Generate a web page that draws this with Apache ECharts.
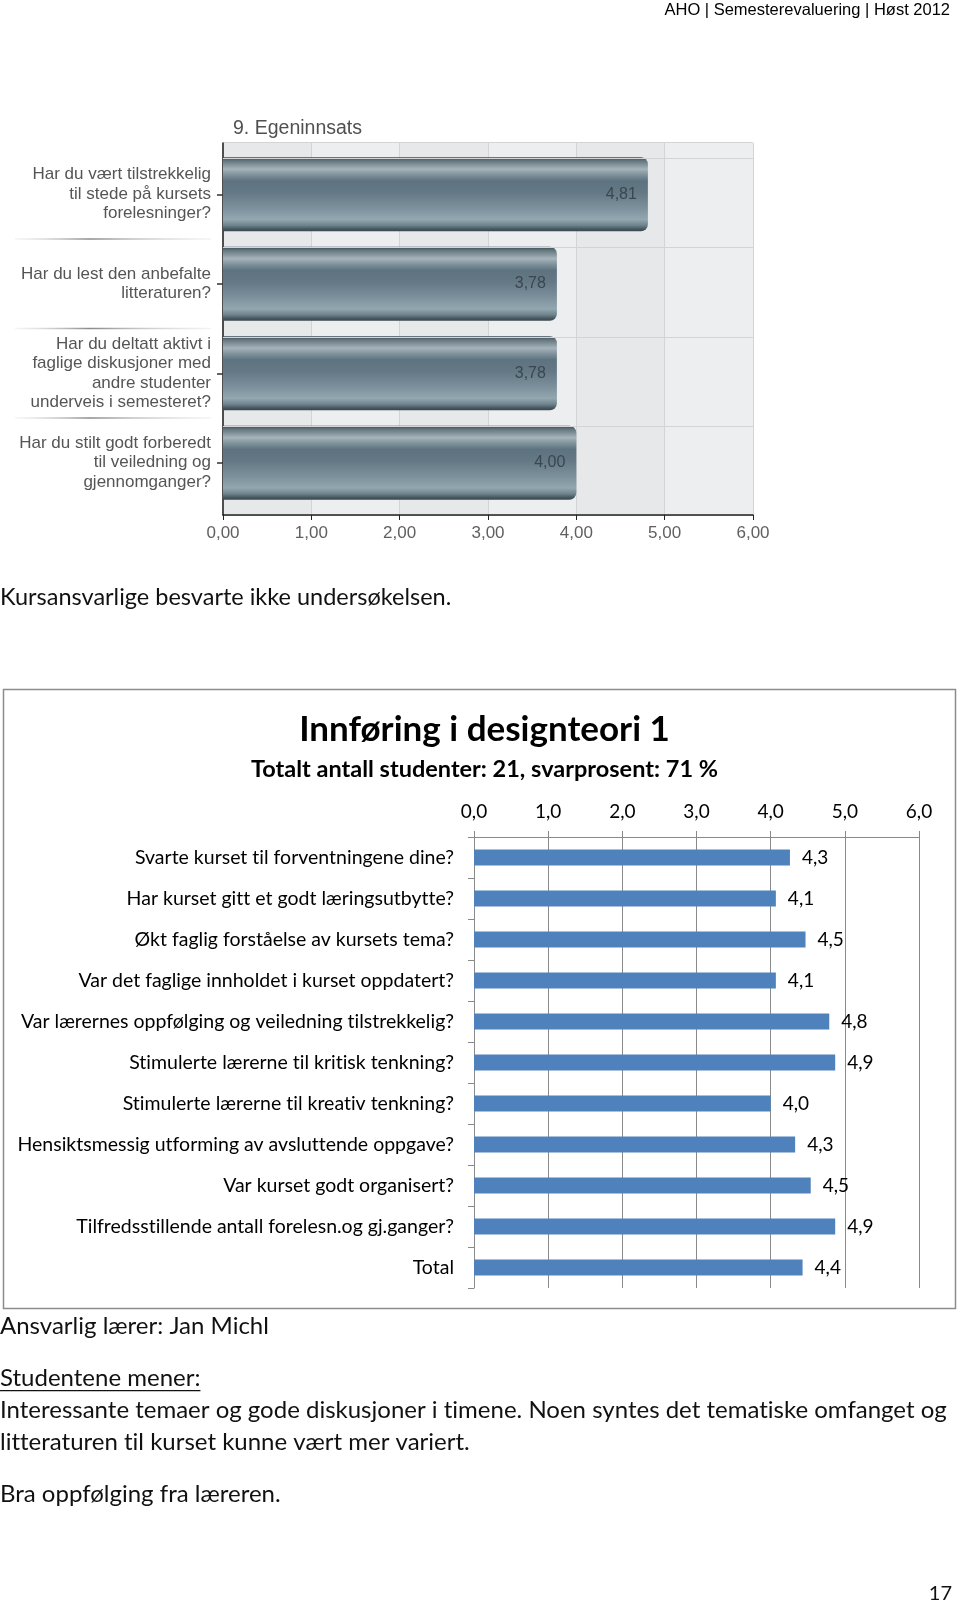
<!DOCTYPE html>
<html>
<head>
<meta charset="utf-8">
<script src="https://cdn.jsdelivr.net/npm/echarts@6/dist/echarts.min.js"></script>
<style>
html,body{margin:0;padding:0;background:#fff;}
#c{width:960px;height:1605px;}
</style>
</head>
<body>
<div id="c"></div>
<script>
// ---- Data: chart 1 (9. Egeninnsats)
var effortCategories = [
  'Har du vært tilstrekkelig\ntil stede på kursets\nforelesninger?',
  'Har du lest den anbefalte\nlitteraturen?',
  'Har du deltatt aktivt i\nfaglige diskusjoner med\nandre studenter\nunderveis i semesteret?',
  'Har du stilt godt forberedt\ntil veiledning og\ngjennomganger?'
];
var effortValues = [4.81, 3.78, 3.78, 4.00];
var effortTicks = [0, 1, 2, 3, 4, 5, 6];

// ---- Data: chart 2 (Innføring i designteori 1)
var courseCategories = [
  'Svarte kurset til forventningene dine?',
  'Har kurset gitt et godt læringsutbytte?',
  'Økt faglig forståelse av kursets tema?',
  'Var det faglige innholdet i kurset oppdatert?',
  'Var lærernes oppfølging og veiledning tilstrekkelig?',
  'Stimulerte lærerne til kritisk tenkning?',
  'Stimulerte lærerne til kreativ tenkning?',
  'Hensiktsmessig utforming av avsluttende oppgave?',
  'Var kurset godt organisert?',
  'Tilfredsstillende antall forelesn.og gj.ganger?',
  'Total'
];
var courseValues = [4.26, 4.07, 4.47, 4.07, 4.79, 4.87, 4.00, 4.33, 4.54, 4.87, 4.43];
var courseTicks = [0, 1, 2, 3, 4, 5, 6];

// avoid typographic ligatures (tt, ti, ft) so text looks like the original
(function () {
  var P = CanvasRenderingContext2D.prototype;
  var ft = P.fillText, mt = P.measureText;
  P.fillText = function () { try { this.textRendering = 'optimizeSpeed'; } catch (e) {} return ft.apply(this, arguments); };
  P.measureText = function () { try { this.textRendering = 'optimizeSpeed'; } catch (e) {} return mt.apply(this, arguments); };
})();

var chart = echarts.init(document.getElementById('c'), null, {renderer: 'canvas'});

var barGrad = new echarts.graphic.LinearGradient(0, 0, 0, 1, [
  {offset: 0, color: '#3c4b54'},
  {offset: 0.05, color: '#65777f'},
  {offset: 0.16, color: '#a6b3ba'},
  {offset: 0.24, color: '#7e919b'},
  {offset: 0.32, color: '#5e7380'},
  {offset: 0.48, color: '#647985'},
  {offset: 0.68, color: '#7b909b'},
  {offset: 0.84, color: '#93a7b1'},
  {offset: 0.92, color: '#6f838e'},
  {offset: 0.97, color: '#46575f'},
  {offset: 1, color: '#3a4850'}
]);

var paraFont = 'Lato, "Open Sans", sans-serif';
var arial = '"Liberation Sans", Arial, sans-serif';

var option = {
  backgroundColor: '#fff',
  animation: false,
  title: [
    {text: '9. Egeninnsats', left: 228, top: 114,
     textStyle: {fontFamily: arial, fontSize: 19.5, fontWeight: 'normal', color: '#505050'}},
    {text: 'Innføring i designteori 1', left: 479.5, top: 707, textAlign: 'center',
     textStyle: {fontFamily: 'Lato, sans-serif', fontSize: 35, fontWeight: 'bold', color: '#000'}},
    {text: 'Totalt antall studenter: 21, svarprosent: 71 %', left: 479.5, top: 752, textAlign: 'center',
     textStyle: {fontFamily: 'Lato, sans-serif', fontSize: 23.5, fontWeight: 'bold', color: '#000'}}
  ],
  grid: [
    {left: 223, top: 143, width: 530, height: 372, show: true, backgroundColor: '#e9ebed', borderColor: '#a8a8a8', borderWidth: 1, containLabel: false},
    {left: 223, top: 149.5, width: 530, height: 358, containLabel: false},
    {left: 474, top: 837, width: 445, height: 451, containLabel: false}
  ],
  xAxis: [
    {gridIndex: 0, type: 'value', min: 0, max: 6, interval: 1,
     axisLine: {show: true, onZero: false, lineStyle: {color: '#222', width: 1.5}},
     axisTick: {show: true, length: 5, lineStyle: {color: '#222'}},
     axisLabel: {margin: 10, fontFamily: arial, fontSize: 17, color: '#606060',
       formatter: function (v) { return v.toFixed(2).replace('.', ','); }},
     splitLine: {show: true, lineStyle: {color: '#d2d4d6', width: 1}},
     splitArea: {show: true, areaStyle: {color: ['#e6e8ea', '#eceef0']}}
    },
    {gridIndex: 1, type: 'value', min: 0, max: 6, interval: 1, show: false,
     splitLine: {show: false}},
    {gridIndex: 2, type: 'value', min: 0, max: 6, interval: 1, position: 'top',
     axisLine: {show: true, onZero: false, lineStyle: {color: '#8a8a8a', width: 1}},
     axisTick: {show: true, length: 6, lineStyle: {color: '#8a8a8a'}},
     axisLabel: {margin: 16, fontFamily: 'Lato, sans-serif', fontSize: 19, color: '#000',
       formatter: function (v) { return v.toFixed(1).replace('.', ','); }},
     splitLine: {show: true, lineStyle: {color: '#8a8a8a', width: 1}}
    }
  ],
  yAxis: [
    {gridIndex: 0, type: 'value', min: 0, max: 1, show: true,
     axisLine: {show: true, onZero: false, lineStyle: {color: '#222', width: 1.5}},
     axisTick: {show: false}, axisLabel: {show: false}, splitLine: {show: false}},
    {gridIndex: 1, type: 'category', inverse: true, data: effortCategories,
     axisLine: {show: false},
     axisTick: {show: true, alignWithLabel: true, length: 6, lineStyle: {color: '#333', width: 1.5}},
     axisLabel: {margin: 12, fontFamily: arial, fontSize: 17, color: '#555',
       lineHeight: 19.5, align: 'right'},
     splitLine: {show: false}},
    {gridIndex: 2, type: 'category', inverse: true, data: courseCategories,
     axisLine: {show: true, lineStyle: {color: '#8a8a8a', width: 1}},
     axisTick: {show: true, length: 6, lineStyle: {color: '#8a8a8a'}},
     axisLabel: {margin: 20, fontFamily: 'Lato, sans-serif', fontSize: 19.5, color: '#000'},
     splitLine: {show: false}}
  ],
  series: [
    {type: 'bar', xAxisIndex: 1, yAxisIndex: 1, z: 1, silent: true,
     data: effortValues.map(function () { return 0; }),
     itemStyle: {color: 'rgba(0,0,0,0)'},
     markLine: {silent: true, symbol: 'none', label: {show: false},
       lineStyle: {color: '#d2d4d6', width: 1, type: 'solid'},
       data: effortCategories.map(function (c) { return {yAxis: c}; })}},
    {type: 'bar', xAxisIndex: 1, yAxisIndex: 1, z: 3, barWidth: 74, barGap: '-100%',
     data: effortValues,
     itemStyle: {color: barGrad, borderRadius: [0, 7, 7, 0]},
     label: {show: true, position: 'insideRight', distance: 11,
       fontFamily: arial, fontSize: 16, color: '#3a4650',
       formatter: function (p) { return p.value.toFixed(2).replace('.', ','); }}},
    {type: 'bar', xAxisIndex: 2, yAxisIndex: 2, barWidth: 16,
     data: courseValues,
     itemStyle: {color: '#4f81bd'},
     label: {show: true, position: 'right', distance: 12,
       fontFamily: 'Lato, sans-serif', fontSize: 19, color: '#000',
       formatter: function (p) { return p.value.toFixed(1).replace('.', ','); }}}
  ]
};
chart.setOption(option);

// ---- decorations: separators between category labels (chart 1), box, texts
var g = [];
for (var i = 0; i < effortCategories.length - 1; i++) {
  var y1 = chart.convertToPixel({yAxisIndex: 1}, effortCategories[i]);
  var y2 = chart.convertToPixel({yAxisIndex: 1}, effortCategories[i + 1]);
  var ym = (y1 + y2) / 2;
  g.push({type: 'rect', shape: {x: 15, y: ym - 0.75, width: 196, height: 1.5},
    style: {fill: new echarts.graphic.LinearGradient(0, 0, 1, 0, [
      {offset: 0, color: 'rgba(220,220,220,0.3)'},
      {offset: 0.38, color: '#8a8a8a'},
      {offset: 0.6, color: '#c0c0c0'},
      {offset: 1, color: 'rgba(225,225,225,0.4)'}])}, silent: true});
}
g.push({type: 'rect', shape: {x: 3.5, y: 689.5, width: 952, height: 619},
  style: {fill: 'none', stroke: '#8c8c8c', lineWidth: 1.5}, z: -1, silent: true});

function txt(t, x, y, size, opts) {
  opts = opts || {};
  return {type: 'text', x: x, y: y, silent: true,
    style: {text: t, fontFamily: opts.font || paraFont, fontSize: size, fill: opts.color || '#111',
      fontWeight: opts.weight || 'normal', textAlign: opts.align || 'left', textVerticalAlign: 'middle'}};
}
var measureCtx = document.createElement('canvas').getContext('2d');
function textWidth(t, size) {
  measureCtx.font = size + 'px ' + paraFont;
  return measureCtx.measureText(t).width;
}
g.push(txt('AHO | Semesterevaluering | Høst 2012', 950, 10, 16.5, {font: arial, align: 'right', color: '#000'}));
g.push(txt('Kursansvarlige besvarte ikke undersøkelsen.', 0, 597, 23.5));
g.push(txt('Ansvarlig lærer: Jan Michl', 0, 1326, 24));
g.push(txt('Studentene mener:', 0, 1378, 24));
g.push({type: 'rect', shape: {x: 0, y: 1390, width: textWidth('Studentene mener:', 24), height: 1.3}, style: {fill: '#111'}, silent: true});
g.push(txt('Interessante temaer og gode diskusjoner i timene. Noen syntes det tematiske omfanget og', 0, 1410, 24));
g.push(txt('litteraturen til kurset kunne vært mer variert.', 0, 1442, 24));
g.push(txt('Bra oppfølging fra læreren.', 0, 1494, 24));
g.push(txt('17', 952, 1594, 20, {align: 'right'}));

chart.setOption({graphic: {elements: g}});
</script>
</body>
</html>
